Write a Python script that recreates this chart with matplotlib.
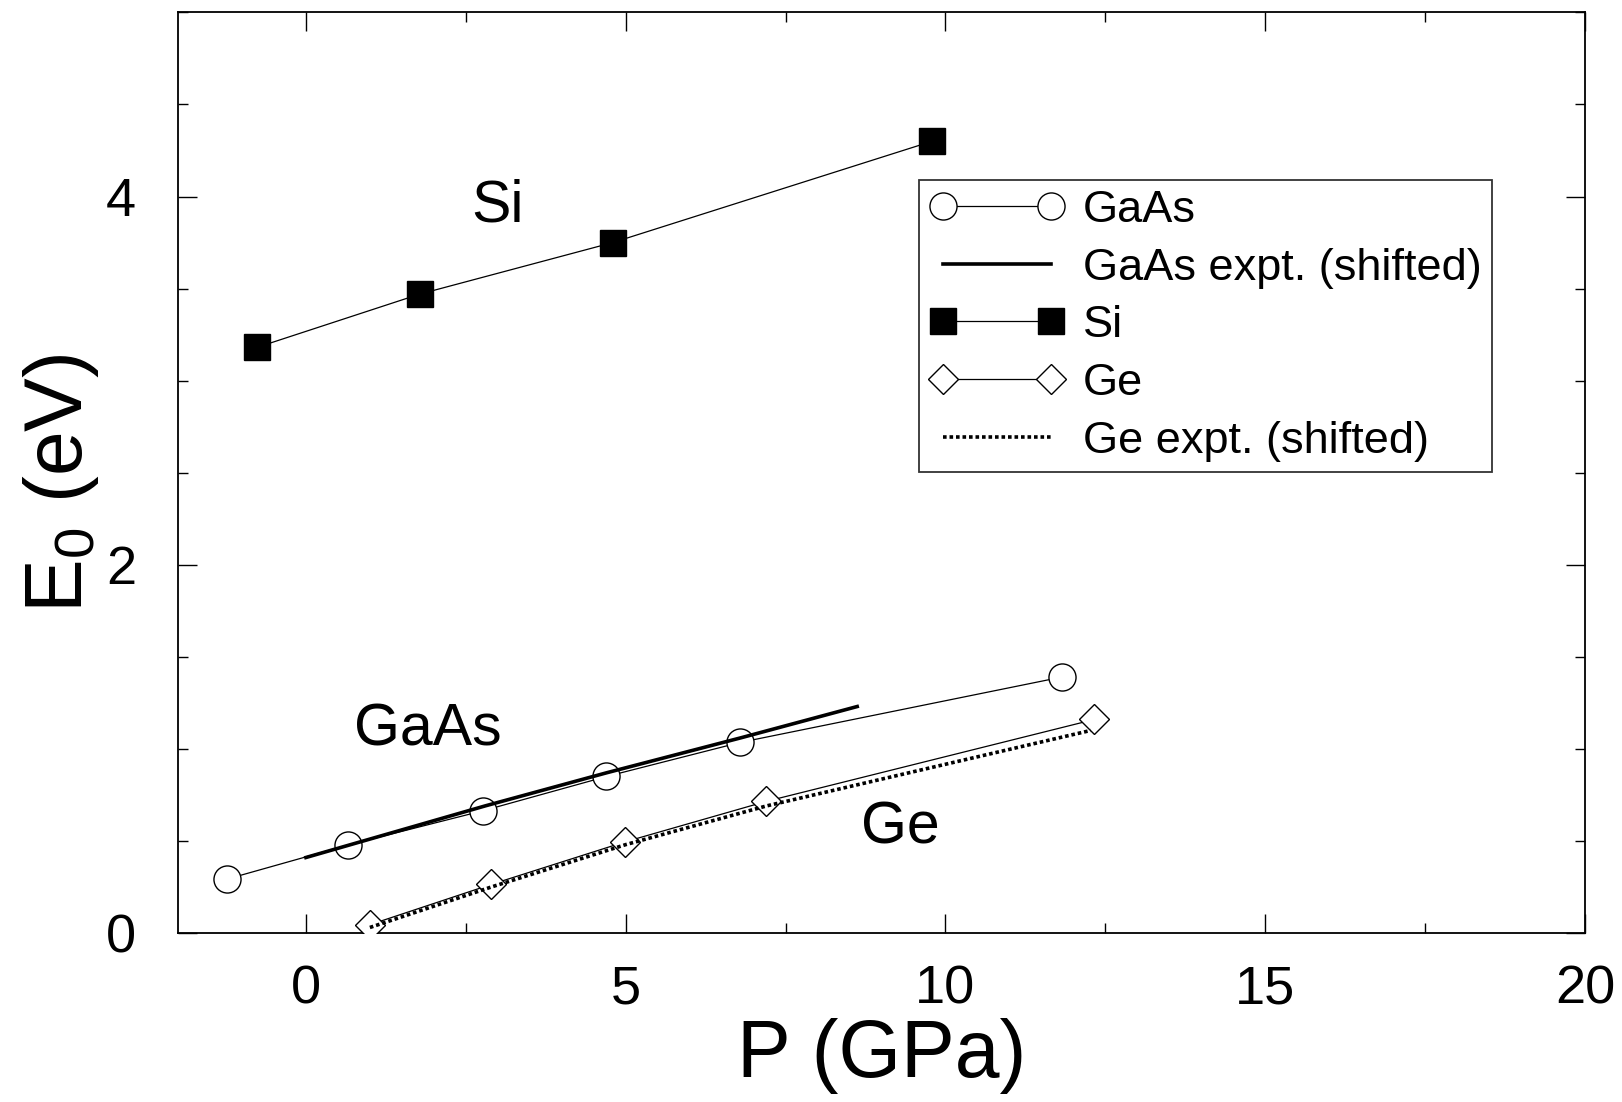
import numpy as np
import matplotlib
matplotlib.use("Agg")
import matplotlib.pyplot as plt
from matplotlib.ticker import MultipleLocator

plt.rcParams['font.family'] = ['Liberation Sans', 'DejaVu Sans']
plt.rcParams['mathtext.fontset'] = 'custom'
plt.rcParams['mathtext.rm'] = 'Liberation Sans'
plt.rcParams['mathtext.it'] = 'Liberation Sans'

# calculated gaps vs pressure
gaas_p = [-1.23, 0.66, 2.77, 4.70, 6.79, 11.82]
gaas_e = [0.293, 0.478, 0.664, 0.850, 1.035, 1.39]

si_p = [-0.77, 1.78, 4.80, 9.79]
si_e = [3.18, 3.47, 3.75, 4.30]

ge_p = [1.0, 2.90, 4.99, 7.20, 12.33]
ge_e = [0.045, 0.264, 0.495, 0.715, 1.16]

# experimental curves, shifted
gaas_exp_p = [0.0, 2.8, 4.7, 6.8, 8.62]
gaas_exp_e = [0.41, 0.69, 0.87, 1.06, 1.23]

ge_exp_p = [1.0, 2.9, 5.0, 7.2, 12.27]
ge_exp_e = [0.03, 0.25, 0.48, 0.69, 1.10]

fig = plt.figure(figsize=(16.22, 11.02), dpi=100)
ax = fig.add_axes([178/1622, 1 - 933/1102, 1407/1622, 920.6/1102])

lw = 0.9
ax.plot(gaas_p, gaas_e, '-', color='black', lw=lw, marker='o', ms=19.5,
        mfc='white', mec='black', mew=1.0, label='GaAs', zorder=3)
ax.plot(gaas_exp_p, gaas_exp_e, '-', color='black', lw=2.6,
        label='GaAs expt. (shifted)', zorder=4)
ax.plot(si_p, si_e, '-', color='black', lw=lw, marker='s', ms=19,
        mfc='black', mec='black', label='Si', zorder=3)
ax.plot(ge_p, ge_e, '-', color='black', lw=lw, marker='D', ms=15.3,
        mfc='white', mec='black', mew=1.0, label='Ge', zorder=3)
ax.plot(ge_exp_p, ge_exp_e, color='black', lw=2.6, ls=(0, (1, 0.8)),
        label='Ge expt. (shifted)', zorder=4)

ax.text(3.0, 3.95, 'Si', fontsize=42.5, ha='center', va='center')
ax.text(1.91, 1.10, 'GaAs', fontsize=42.5, ha='center', va='center')
ax.text(9.29, 0.57, 'Ge', fontsize=42.5, ha='center', va='center')

ax.set_xlim(-2, 20)
ax.set_ylim(0, 5)
ax.xaxis.set_major_locator(MultipleLocator(5))
ax.xaxis.set_minor_locator(MultipleLocator(2.5))
ax.yaxis.set_major_locator(MultipleLocator(2))
ax.yaxis.set_minor_locator(MultipleLocator(0.5))
ax.tick_params(which='both', direction='in', top=True, right=True,
               width=1.0, labelsize=39)
ax.tick_params(which='major', length=14)
ax.tick_params(which='minor', length=7)
ax.tick_params(axis='x', pad=23)
ax.tick_params(axis='y', pad=30)
for s in ax.spines.values():
    s.set_linewidth(1.3)

ax.set_xlabel('P (GPa)', fontsize=58, labelpad=2)
ax.set_ylabel(r'E$_0$ (eV)', fontsize=58)
ax.yaxis.set_label_coords(-0.055, 0.489)

leg = ax.legend(loc='upper left', bbox_to_anchor=(0.527, 0.818), fontsize=32.5,
                numpoints=2, handlelength=3.0, frameon=True, fancybox=False,
                edgecolor='black', borderpad=0.22, labelspacing=0.37,
                handletextpad=0.4, borderaxespad=0)
leg.get_frame().set_linewidth(1.3)

fig.savefig('out.png', dpi=100)
